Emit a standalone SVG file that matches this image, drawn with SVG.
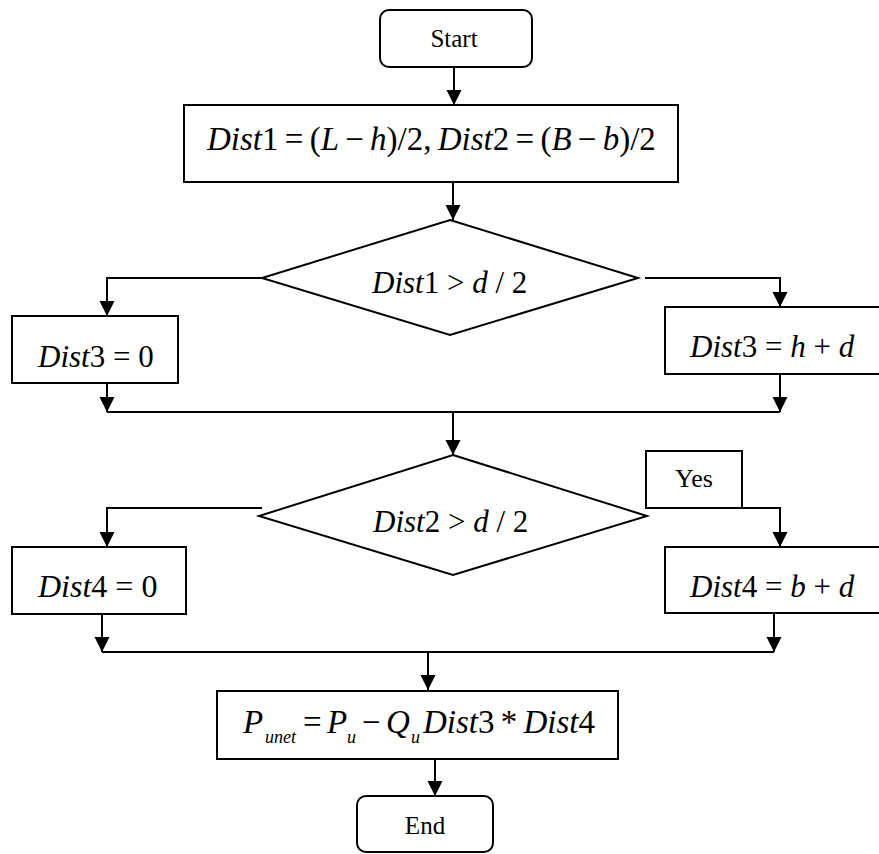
<svg xmlns="http://www.w3.org/2000/svg" width="879" height="854" viewBox="0 0 879 854">
<style>
  .box { fill: #fff; stroke: #000; stroke-width: 2; }
  .conn { fill: none; stroke: #000; stroke-width: 2; }
  .t { font-family: "Liberation Serif", "Times New Roman", serif; fill: #000; }
  .i { font-style: italic; }
</style>
<defs>
  <marker id="arr" markerUnits="userSpaceOnUse" markerWidth="16" markerHeight="16" refX="15" refY="7.5" orient="auto">
    <path d="M0,0 L15,7.5 L0,15 Z" fill="#000"/>
  </marker>
</defs>
<rect width="879" height="854" fill="#fff"/>

<g id="connectors">
  <path class="conn" d="M454,67 V105" marker-end="url(#arr)"/>
  <path class="conn" d="M453,182 V220" marker-end="url(#arr)"/>
  <path class="conn" d="M262,278 H107 V316" marker-end="url(#arr)"/>
  <path class="conn" d="M645,278 H780 V307" marker-end="url(#arr)"/>
  <path class="conn" d="M107,383 V412" marker-end="url(#arr)"/>
  <path class="conn" d="M780,374 V412" marker-end="url(#arr)"/>
  <path class="conn" d="M107,412 H780"/>
  <path class="conn" d="M453,412 V455" marker-end="url(#arr)"/>
  <path class="conn" d="M262,508 H107 V547" marker-end="url(#arr)"/>
  <path class="conn" d="M742,508 H780 V547" marker-end="url(#arr)"/>
  <path class="conn" d="M102,614 V652" marker-end="url(#arr)"/>
  <path class="conn" d="M774,613 V652" marker-end="url(#arr)"/>
  <path class="conn" d="M102,652 H774"/>
  <path class="conn" d="M428,652 V690" marker-end="url(#arr)"/>
  <path class="conn" d="M435,759 V796" marker-end="url(#arr)"/>
</g>

<g id="start">
  <rect class="box" x="380" y="10" width="152" height="57" rx="9"/>
  <text class="t" x="454" y="47" font-size="25" text-anchor="middle">Start</text>
</g>

<g id="dist12">
  <rect class="box" x="184" y="105" width="494" height="77"/>
  <text class="t" x="207" y="150" font-size="33" word-spacing="-2"><tspan class="i">Dist</tspan>1 = (<tspan class="i">L</tspan> − <tspan class="i">h</tspan>)/2, <tspan class="i">Dist</tspan>2 = (<tspan class="i">B</tspan> − <tspan class="i">b</tspan>)/2</text>
</g>

<g id="cond1">
  <polygon class="box" points="450,220 638,278 450,335 262,278"/>
  <text class="t" x="372" y="293" font-size="31"><tspan class="i">Dist</tspan>1 &gt; <tspan class="i">d</tspan> / 2</text>
</g>

<g id="dist3zero">
  <rect class="box" x="12" y="316" width="166" height="67"/>
  <text class="t" x="38" y="367" font-size="31"><tspan class="i">Dist</tspan>3 = 0</text>
</g>

<g id="dist3hd">
  <rect class="box" x="665" y="307" width="218" height="67"/>
  <text class="t" x="690" y="357" font-size="31"><tspan class="i">Dist</tspan>3 = <tspan class="i">h</tspan> + <tspan class="i">d</tspan></text>
</g>

<g id="cond2">
  <polygon class="box" points="453,455 647,516 453,575 259,516"/>
  <text class="t" x="373" y="532" font-size="31"><tspan class="i">Dist</tspan>2 &gt; <tspan class="i">d</tspan> / 2</text>
</g>

<g id="yes">
  <rect class="box" x="646" y="451" width="96" height="57"/>
  <text class="t" x="694" y="487" font-size="26" text-anchor="middle">Yes</text>
</g>

<g id="dist4zero">
  <rect class="box" x="12" y="547" width="174" height="67"/>
  <text class="t" x="38" y="597" font-size="32"><tspan class="i">Dist</tspan>4 = 0</text>
</g>

<g id="dist4bd">
  <rect class="box" x="665" y="547" width="218" height="66"/>
  <text class="t" x="690" y="597" font-size="31"><tspan class="i">Dist</tspan>4 = <tspan class="i">b</tspan> + <tspan class="i">d</tspan></text>
</g>

<g id="punet">
  <rect class="box" x="217" y="691" width="401" height="68"/>
  <text class="t i" x="243" y="733" font-size="33">P</text>
  <text class="t i" x="265" y="743" font-size="18">unet</text>
  <text class="t" x="303" y="733" font-size="33">=</text>
  <text class="t i" x="327" y="733" font-size="33">P</text>
  <text class="t i" x="347" y="743" font-size="18">u</text>
  <text class="t" x="362" y="733" font-size="33">−</text>
  <text class="t i" x="386" y="733" font-size="33">Q</text>
  <text class="t i" x="411" y="743" font-size="18">u</text>
  <text class="t" x="423" y="733" font-size="33" word-spacing="-2"><tspan class="i">Dist</tspan>3 * <tspan class="i">Dist</tspan>4</text>
</g>

<g id="end">
  <rect class="box" x="357" y="796" width="136" height="56" rx="9"/>
  <text class="t" x="425" y="834" font-size="25" text-anchor="middle">End</text>
</g>
</svg>
